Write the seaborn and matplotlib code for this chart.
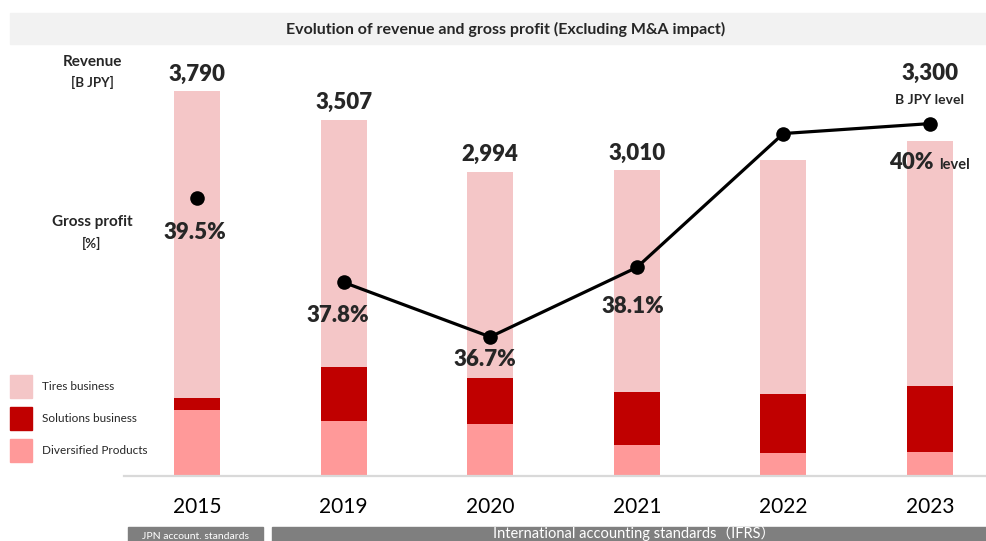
import numpy as np
import pandas as pd
import matplotlib
matplotlib.use("Agg")
import matplotlib.pyplot as plt
from matplotlib.patches import Rectangle
import seaborn as sns

# ---- data -------------------------------------------------------------
years = ["2015", "2019", "2020", "2021", "2022", "2023"]
tires = [3022, 2435, 2029, 2183, 2303, 2414]
solutions = [118, 531, 453, 522, 581, 650]
diversified = [650, 541, 512, 305, 226, 236]
revenue_labels = ["3,790", "3,507", "2,994", "3,010", "", "3,300"]
gross_margin = [39.5, 37.8, 36.7, 38.1, 40.8, 41.0]
margin_labels = ["39.5%", "37.8%", "36.7%", "38.1%", "", "40%"]
segment_names = ["Tires business", "Solutions business", "Diversified Products"]

# ---- style ------------------------------------------------------------
sns.set_theme(style="white")
plt.rcParams["font.family"] = ["Lato", "Noto Sans CJK JP", "DejaVu Sans"]

C_TIRES = "#F4C6C7"
C_SOL = "#C00000"
C_DIV = "#FF9999"
C_BAND = "#7F7F7F"
NUM_WEIGHT = "heavy"

W, H = 986, 541
fig = plt.figure(figsize=(W / 100, H / 100), dpi=100)


def fx(x):
    return x / W


def fy(y):
    return 1 - y / H


df = pd.DataFrame({
    "year": years,
    "tires": tires,
    "solutions": solutions,
    "diversified": diversified,
})
df["total"] = df["tires"] + df["solutions"] + df["diversified"]
df["lower"] = df["solutions"] + df["diversified"]
idx = np.arange(len(years))

# ---- bar axes ---------------------------------------------------------
ax = fig.add_axes([fx(124), fy(476), fx(862), 426 / H])
bar_w = 0.314
for col, c in [("total", C_TIRES), ("lower", C_SOL), ("diversified", C_DIV)]:
    sns.barplot(data=df, x="year", y=col, order=years, color=c, saturation=1,
                width=bar_w, linewidth=0, ax=ax)

ax.set_xlim(-0.498, 5.382)
ax.set_ylim(0, 4193)
ax.set_xlabel("")
ax.set_ylabel("")
ax.set_yticks([])
ax.set_xticks(idx)
ax.set_xticklabels(years, fontsize=15)
ax.tick_params(axis="x", length=0, pad=15, labelcolor="black")
for s in ["top", "right", "left"]:
    ax.spines[s].set_visible(False)
ax.spines["bottom"].set_color("#D9D9D9")
ax.spines["bottom"].set_linewidth(1.6)

# revenue labels above bars
for i, (lab, tot) in enumerate(zip(revenue_labels, df["total"])):
    if not lab:
        continue
    if years[i] == "2023":
        ax.annotate(lab, (i, tot), xytext=(0, 44), textcoords="offset points",
                    ha="center", va="baseline", fontsize=16, fontweight=NUM_WEIGHT)
        ax.annotate("B JPY level", (i, tot), xytext=(0, 26.5),
                    textcoords="offset points", ha="center", va="baseline",
                    fontsize=10, fontweight="bold")
    else:
        ax.annotate(lab, (i, tot), xytext=(0, 7.5), textcoords="offset points",
                    ha="center", va="baseline", fontsize=16, fontweight=NUM_WEIGHT)

# ---- gross profit line ------------------------------------------------
ax2 = ax.twinx()
ax2.set_ylim(33.895, 42.484)
sns.lineplot(x=idx[1:], y=gross_margin[1:], ax=ax2, color="black", linewidth=2.3,
             marker="o", markersize=10.5, markeredgewidth=0)
sns.scatterplot(x=idx[:1], y=gross_margin[:1], ax=ax2, color="black", s=110,
                linewidth=0)
ax2.set_xlim(-0.498, 5.382)
ax2.set_yticks([])
ax2.set_ylabel("")
for s in ax2.spines.values():
    s.set_visible(False)

# percent labels below the points (offsets in points)
offsets = [(-1.5, -24.5), (-4.5, -24), (-3.5, -16), (-3, -28), (0, 0), (0, 0)]
for i, lab in enumerate(margin_labels):
    if not lab:
        continue
    if years[i] == "2023":
        ax2.annotate(lab, (i, gross_margin[i]), xytext=(2.5, -33),
                     textcoords="offset points", ha="right", va="baseline",
                     fontsize=16, fontweight=NUM_WEIGHT)
        ax2.annotate("level", (i, gross_margin[i]), xytext=(6.5, -33),
                     textcoords="offset points", ha="left", va="baseline",
                     fontsize=10.5, fontweight="bold")
    else:
        ax2.annotate(lab, (i, gross_margin[i]), xytext=offsets[i],
                     textcoords="offset points", ha="center", va="center",
                     fontsize=16, fontweight=NUM_WEIGHT)

# ---- title band -------------------------------------------------------
fig.patches.append(Rectangle((fx(10), fy(44)), fx(976), 31 / H,
                             transform=fig.transFigure, color="#F2F2F2",
                             zorder=0))
fig.text(fx(506), fy(29), "Evolution of revenue and gross profit (Excluding M&A impact)",
         ha="center", va="center", fontsize=11.5, fontweight="bold")

# ---- axis captions on the left ----------------------------------------
fig.text(fx(92), fy(62), "Revenue", ha="center", va="center", fontsize=11,
         fontweight="bold")
fig.text(fx(92), fy(82), "[B JPY]", ha="center", va="center", fontsize=9.5,
         fontweight="bold")
fig.text(fx(92), fy(222), "Gross profit", ha="center", va="center", fontsize=11,
         fontweight="bold")
fig.text(fx(92), fy(243), "[%]", ha="center", va="center", fontsize=9.5,
         fontweight="bold")

# ---- legend: colour swatches with labels ------------------------------
swatch_tops = [375, 407, 439]
for top, c, name in zip(swatch_tops, [C_TIRES, C_SOL, C_DIV], segment_names):
    fig.patches.append(Rectangle((fx(10), fy(top + 23)), fx(22), 23 / H,
                                 transform=fig.transFigure, color=c, zorder=1))
    fig.text(fx(42), fy(top + 12), name, ha="left", va="center", fontsize=8.5)

# ---- accounting standard bands ----------------------------------------
fig.patches.append(Rectangle((fx(128), fy(560)), fx(135), 33 / H,
                             transform=fig.transFigure, color=C_BAND, zorder=0))
fig.text(fx(195.5), fy(541), "JPN account. standards", ha="center",
         va="bottom", fontsize=7.5, color="white")
fig.patches.append(Rectangle((fx(272), fy(560)), fx(720), 33 / H,
                             transform=fig.transFigure, color=C_BAND, zorder=0))
fig.text(fx(634), fy(541), "International accounting standards（IFRS）",
         ha="center", va="bottom", fontsize=10.5, color="white")

fig.savefig("out.png", dpi=100)
